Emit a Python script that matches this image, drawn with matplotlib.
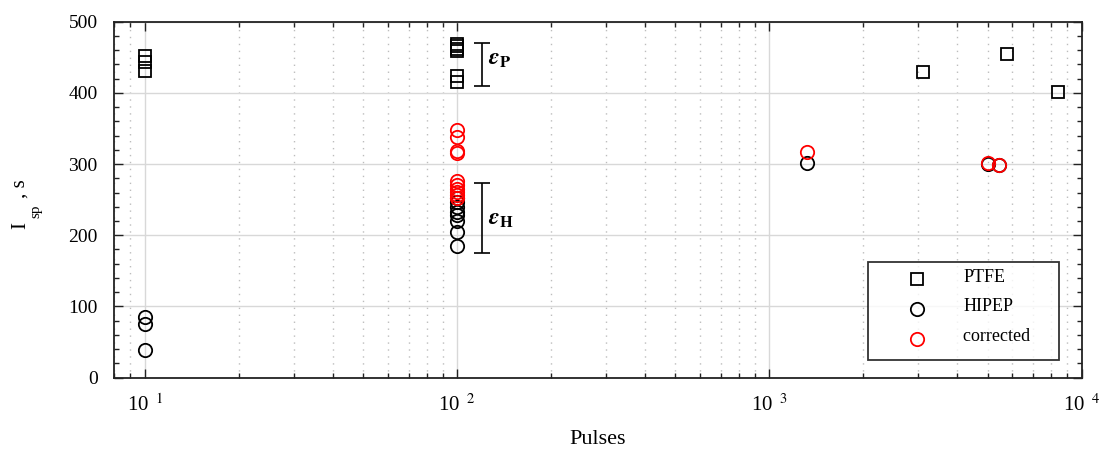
import math
import matplotlib
matplotlib.use("Agg")
import matplotlib.pyplot as plt
from matplotlib.ticker import FixedLocator, LogLocator, MultipleLocator, FuncFormatter

plt.rcParams['font.family'] = ['Liberation Serif', 'DejaVu Serif']
plt.rcParams['mathtext.fontset'] = 'stix'

# data
ptfe_x = [10, 10, 10, 100, 100, 100, 100, 100, 100, 3100, 5750, 8400]
ptfe_y = [452, 443, 430, 469, 466, 462, 459, 424, 415, 429, 454, 401]

hipep_x = [10, 10, 10, 100, 100, 100, 100, 100, 100, 100, 100, 1320, 5000, 5430]
hipep_y = [85, 75, 39, 252, 246, 240, 233, 228, 220, 205, 185, 302, 300, 299]

corr_x = [100, 100, 100, 100, 100, 100, 100, 100, 100, 100, 1320, 5000, 5430]
corr_y = [348, 338, 318, 316, 276, 270, 265, 261, 257, 252, 317, 301, 298]

# spread bars (low, high) and where they stand
eps_x = 120
eps_p = (410, 470)
eps_h = (175, 274)

W, H = 1099, 451
fig = plt.figure(figsize=(W / 100, H / 100), dpi=100)
ax = fig.add_axes([0.104, 0.1625, 0.8803, 0.7897])

ax.plot(ptfe_x, ptfe_y, 's', ms=8.6, mfc='none', mec='black', mew=1.3, label='PTFE', zorder=3)
ax.plot(hipep_x, hipep_y, 'o', ms=9.6, mfc='none', mec='black', mew=1.3, label='HIPEP', zorder=3)
ax.plot(corr_x, corr_y, 'o', ms=9.6, mfc='none', mec='red', mew=1.3, label='corrected', zorder=4)

for lo, hi in (eps_p, eps_h):
    ax.errorbar([eps_x], [(lo + hi) / 2], yerr=[(hi - lo) / 2], fmt='none',
                ecolor='black', elinewidth=1.2, capsize=6, capthick=1.2)
ax.text(126, 447, r'$\boldsymbol{\epsilon}_{\mathbf{P}}$', fontsize=17, va='center')
ax.text(126, 222, r'$\boldsymbol{\epsilon}_{\mathbf{H}}$', fontsize=17, va='center')

ax.set_xscale('log')
ax.set_xlim(8, 1e4)
ax.set_ylim(0, 500)

ax.xaxis.set_major_locator(FixedLocator([10, 100, 1000, 10000]))
ax.xaxis.set_minor_locator(LogLocator(base=10, subs=range(2, 10)))
ax.xaxis.set_major_formatter(FuncFormatter(lambda v, p: '10$^{\\ \\ %d}$' % round(math.log10(v))))
ax.yaxis.set_major_locator(MultipleLocator(100))
ax.yaxis.set_minor_locator(MultipleLocator(20))

ax.tick_params(which='both', direction='in', top=True, right=True, labelsize=14, colors='#222222')
ax.tick_params(which='major', length=6.5, width=1.0)
ax.tick_params(which='minor', length=3.8, width=1.0)
ax.tick_params(axis='x', which='major', pad=12, labelsize=15)
ax.tick_params(axis='y', which='major', pad=12)
for lab in ax.get_xticklabels() + ax.get_yticklabels():
    lab.set_color('black')

ax.grid(True, which='major', color='#d8d8d8', linestyle='-', linewidth=1.0)
ax.grid(True, which='minor', axis='x', color='#bdbdbd', linestyle=(0, (1, 4)), linewidth=1.0)
ax.set_axisbelow(True)
for s in ax.spines.values():
    s.set_linewidth(1.3)
    s.set_color('#222222')

ax.set_xlabel('Pulses', fontsize=16, labelpad=10)

# y label built from pieces, subscript dropped low as in the reference
ylab = dict(rotation=90, rotation_mode='anchor', ha='left', va='baseline')
fig.text(25 / W, 1 - 229 / H, 'I', fontsize=15, **ylab)
fig.text(39 / W, 1 - 218 / H, 'sp', fontsize=11, **ylab)
fig.text(25 / W, 1 - 198 / H, ', s', fontsize=15, **ylab)

leg = ax.legend(loc='lower right', bbox_to_anchor=(0.9765, 0.05), fontsize=13,
                frameon=True, fancybox=False, edgecolor='black', borderpad=0.6,
                handlelength=4.2, handletextpad=0.45, labelspacing=0.7, borderaxespad=0)
leg.get_frame().set_linewidth(1.3)
leg.get_texts()[2].set_text('corrected    ')
for t in leg.get_texts():
    t.set_va('bottom')

fig.savefig('out.png', dpi=100)
